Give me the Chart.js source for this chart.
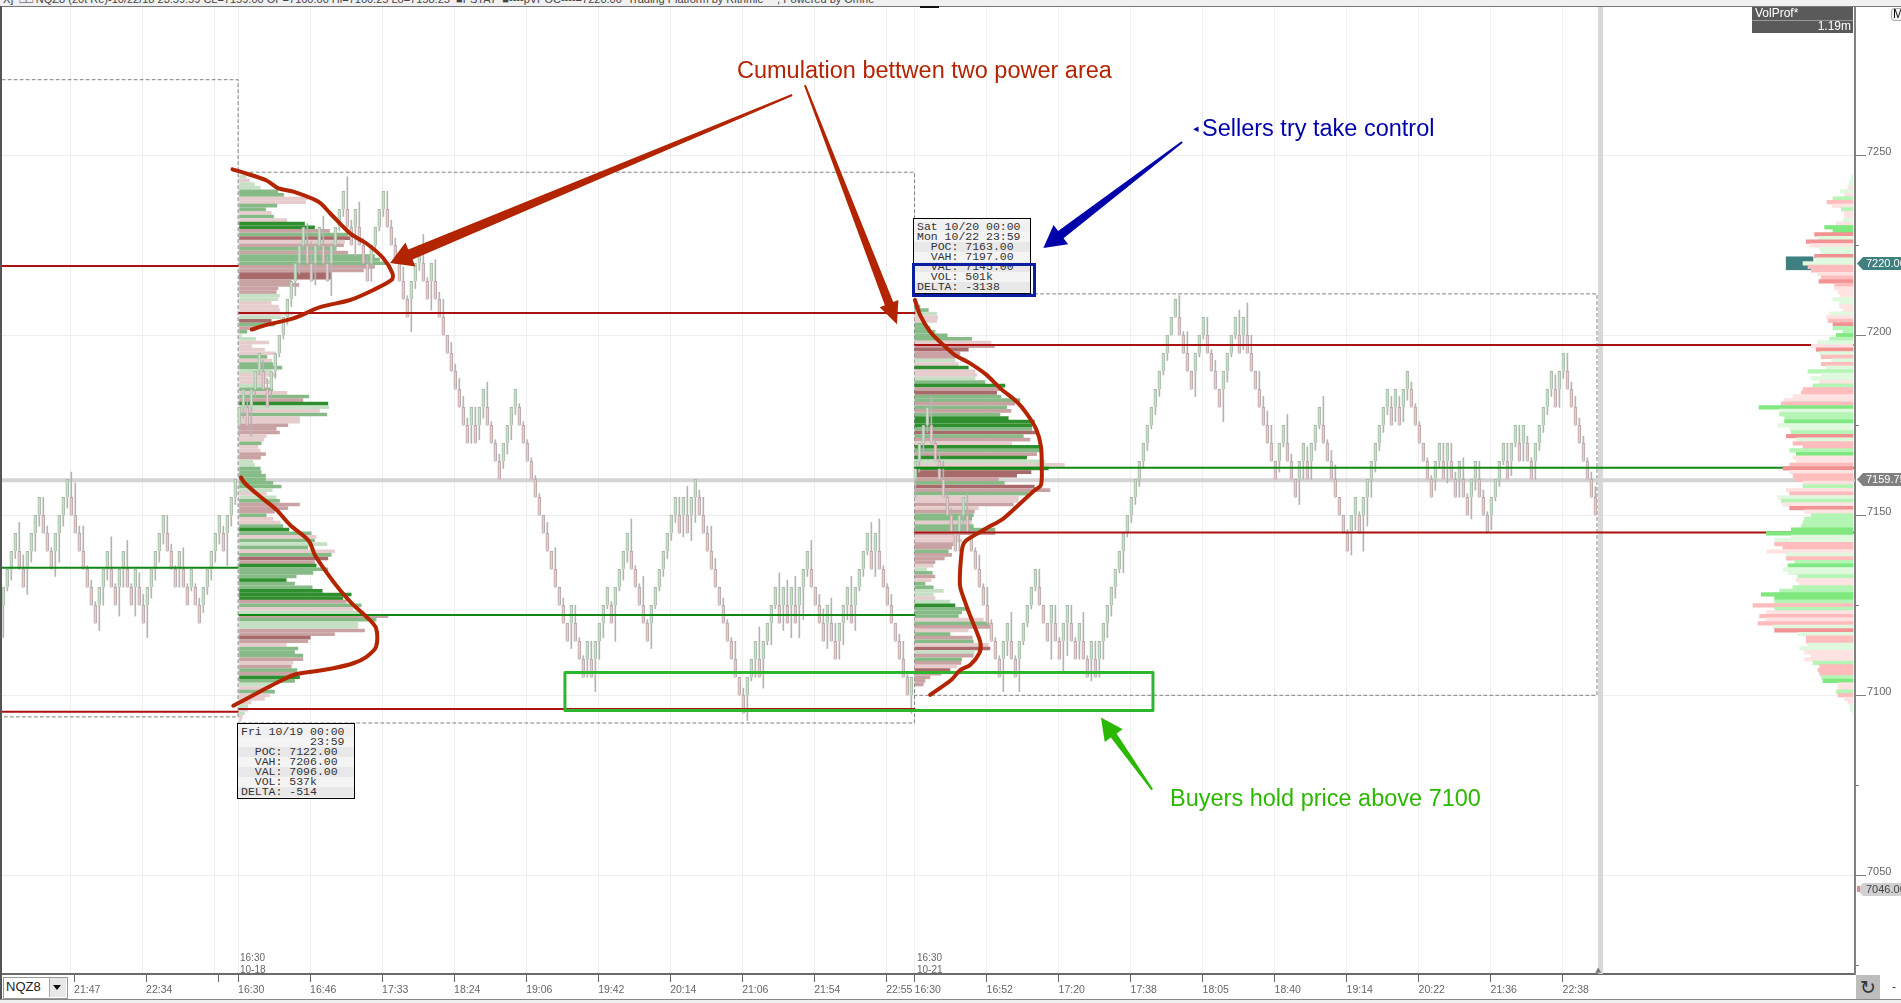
<!DOCTYPE html>
<html>
<head>
<meta charset="utf-8">
<title>NQZ8 volume profile</title>
<script src="https://cdn.jsdelivr.net/npm/chart.js@4"></script>
<style>
  html, body { margin: 0; padding: 0; background: #fff; overflow: hidden; }
  #wrap { position: relative; width: 1901px; height: 1003px; overflow: hidden; }
  #wrap div { position: absolute; white-space: pre; }
  canvas { position: absolute; left: 0; top: 0; }
  .note { font-family: "Liberation Sans", sans-serif; font-size: 23.5px; line-height: 26px; }
  .small { font-family: "Liberation Sans Narrow", "Liberation Sans", sans-serif; font-size: 11px; color: #666; line-height: 11px; }
  .info { font-family: "Liberation Mono", monospace; font-size: 11.5px; color: #333; border: 1px solid #000; background: #f4f4f4; width: 116px; padding-top: 3px; padding-bottom: 1px; }
  #wrap .info span { display: block; height: 10px; line-height: 10px; padding-left: 3px; }
  .info span:nth-child(odd) { background: #e8e8e8; }
  .info span:nth-child(1) { background: #f0f0f0; }
  .tag { font-family: "Liberation Sans", sans-serif; font-size: 11px; line-height: 13px; height: 13px; width: 35px; padding-left: 9px; color: #fff; clip-path: polygon(0 50%, 6px 0, 100% 0, 100% 100%, 6px 100%); }
</style>
</head>
<body>
<div id="wrap">
  <canvas id="profileChart" width="1901" height="1003"></canvas>

  <div style="left:0;top:0;width:1901px;height:6px;background:#f0f0f0;border-bottom:1px solid #777;overflow:hidden">
    <div class="small" style="left:3px;top:-6px;color:#444;font-size:11px">X]  □□ NQZ8 (20t Re)-10/22/18 23:59:59 CL=7159.00 OP=7160.00 Hi=7160.25 Lo=7158.25  ■PSTAT  ■----pVPOC----=7220.00  Trading Platform by Rithmic™ , Powered by Omne</div>
  </div>
  <div style="left:920px;top:6px;width:19px;height:2px;background:#111"></div>
  <div style="left:0;top:6px;width:2px;height:994px;background:#555"></div>

  <div style="left:1752px;top:7px;width:101px;height:26px;background:#5a5a5a"></div>
  <div style="left:1752px;top:20px;width:101px;height:1px;background:#999"></div>
  <div class="small" style="left:1755px;top:8px;color:#fff;font-size:12px">VolProf*</div>
  <div class="small" style="right:50px;top:21px;color:#fff;font-size:12px">1.19m</div>
  <div style="left:1891px;top:8px;width:14px;height:11px;border:1px solid #aaa;border-radius:3px;background:#f4f4f4;font:12px 'Liberation Sans';line-height:11px;padding-left:1px">M</div>

  <div class="tag" style="left:1857px;top:257px;background:#3f7f7f">7220.00</div>
  <div class="tag" style="left:1857px;top:473px;background:#808080">7159.75</div>
  <div class="tag" style="left:1857px;top:883px;background:#d0d0d0;color:#444">7046.00</div>
  <div style="left:1857px;top:886px;width:3px;height:6px;background:#e08888"></div>

  <div class="small" style="left:240px;top:952px;font-size:10px">16:30</div>
  <div class="small" style="left:240px;top:964px;font-size:10px">10-18</div>
  <div class="small" style="left:917px;top:952px;font-size:10px">16:30</div>
  <div class="small" style="left:917px;top:964px;font-size:10px">10-21</div>

  <div class="info" style="left:237px;top:723px"><span>Fri 10/19 00:00</span><span>          23:59</span><span>  POC: 7122.00</span><span>  VAH: 7206.00</span><span>  VAL: 7096.00</span><span>  VOL: 537k</span><span>DELTA: -514</span></div>
  <div class="info" style="left:913px;top:218px"><span>Sat 10/20 00:00</span><span>Mon 10/22 23:59</span><span>  POC: 7163.00</span><span>  VAH: 7197.00</span><span>  VAL: 7145.00</span><span>  VOL: 501k</span><span>DELTA: -3138</span></div>
  <div style="left:912px;top:263px;width:118px;height:28px;border:3px solid #0a1ea0"></div>

  <div class="note" style="left:737px;top:57px;color:#b32400">Cumulation bettwen two power area</div>
  <div class="note" style="left:1193px;top:118px;color:#0000aa;font-size:11px;line-height:20px">◂</div>
  <div class="note" style="left:1202px;top:115px;color:#0000aa">Sellers try take control</div>
  <div class="note" style="left:1170px;top:785px;color:#2bb800">Buyers hold price above 7100</div>

  <div style="left:3px;top:977px;width:63px;height:20px;border:1px solid #999;background:#fff"></div>
  <div class="small" style="left:6px;top:979px;font-size:13px;line-height:15px;color:#222">NQZ8</div>
  <div style="left:49px;top:978px;width:16px;height:19px;background:#e8e8e8;border-left:1px solid #aaa"></div>
  <div style="left:53px;top:985px;width:0;height:0;border-left:4px solid transparent;border-right:4px solid transparent;border-top:5px solid #111"></div>
  <div style="left:1856px;top:975px;width:24px;height:24px;background:#bdbdbd;color:#333;font:19px 'DejaVu Sans';line-height:24px;text-align:center">↻</div>
  <div style="left:1892px;top:980px;font:12px 'Liberation Sans';color:#333">-</div>
  <div style="left:0;top:999px;width:1901px;height:1px;background:#888"></div>
  <div style="left:0;top:1000px;width:1901px;height:3px;background:#f0f0f0"></div>
</div>

<script>
// renko bricks (20 tick = 5 points), one per bar
const brickDirs = (
  "GGGGRRGGGG" + "RRRGGGGRRR" + "RRRRGGGRRG" + "GRRGRRGGGG" + "GRRRGRRGRR" +
  "GGGGGRGGGG" + "GRGGGRRGGG" + "GGGGGGRRGG" + "RRGGGGRRGR" + "RRGGGGRRRR" +
  "RRGGGRRGRR" + "RRRRRRRGRG" + "GRRRRGGGGR" + "RRRRRRRRRR" + "RRGRRRGRGG" +
  "GGRGGGGRRR" + "RRGGGGGGGR" + "GRGGRRRRRR" + "RRRRRRGGGR" + "GGGGRGRGRG" +
  "GGRRRRGRRG" + "GGRGGGGRGR" + "RRRRRRRGGG" + "GGRRRRRRRG" + "GRRRRRRRRR" +
  "GGRRGGGGGR" + "RRGRRGGRRG" + "RRGRGGGGGG" + "GGGGGGGGGG" + "GGGGRRRRGG" +
  "GRRRRGGGGR" + "GRRRRRRRRG" + "GRRRGGRGGG" + "RRRRRRRGGR" + "GGGGGGGRGR" +
  "GGRRRRRRGG" + "RGRRGRRGGR" + "RRGGGGRGGR" + "GRRGGGGGRG" + "GRRRRRRRR"
).split("");
const brickLows = [
  7125, 7130, 7135, 7140, 7135, 7130, 7135, 7140, 7145, 7150,
  7145, 7140, 7135, 7140, 7145, 7150, 7155, 7150, 7145, 7140,
  7135, 7130, 7125, 7120, 7125, 7130, 7135, 7130, 7125, 7130,
  7135, 7130, 7125, 7130, 7125, 7120, 7125, 7130, 7135, 7140,
  7145, 7140, 7135, 7130, 7135, 7130, 7125, 7130, 7125, 7120,
  7125, 7130, 7135, 7140, 7145, 7140, 7145, 7150, 7155, 7175,
  7180, 7175, 7180, 7185, 7190, 7185, 7180, 7185, 7190, 7195,
  7200, 7205, 7210, 7215, 7220, 7225, 7220, 7215, 7220, 7225,
  7220, 7215, 7220, 7225, 7230, 7235, 7230, 7225, 7230, 7225,
  7220, 7215, 7220, 7225, 7230, 7235, 7230, 7225, 7220, 7215,
  7210, 7205, 7210, 7215, 7220, 7215, 7210, 7215, 7210, 7205,
  7200, 7195, 7190, 7185, 7180, 7175, 7170, 7175, 7170, 7175,
  7180, 7175, 7170, 7165, 7160, 7165, 7170, 7175, 7180, 7175,
  7170, 7165, 7160, 7155, 7150, 7145, 7140, 7135, 7130, 7125,
  7120, 7115, 7120, 7115, 7110, 7105, 7110, 7105, 7110, 7115,
  7120, 7125, 7120, 7125, 7130, 7135, 7140, 7135, 7130, 7125,
  7120, 7115, 7120, 7125, 7130, 7135, 7140, 7145, 7150, 7145,
  7150, 7145, 7150, 7155, 7150, 7145, 7140, 7135, 7130, 7125,
  7120, 7115, 7110, 7105, 7100, 7095, 7100, 7105, 7110, 7105,
  7110, 7115, 7120, 7125, 7120, 7125, 7120, 7125, 7120, 7125,
  7130, 7135, 7130, 7125, 7120, 7115, 7120, 7115, 7110, 7115,
  7120, 7125, 7120, 7125, 7130, 7135, 7140, 7135, 7140, 7135,
  7130, 7125, 7120, 7115, 7110, 7105, 7100, 7100, 7160, 7165,
  7170, 7175, 7170, 7165, 7160, 7155, 7150, 7145, 7140, 7145,
  7150, 7145, 7140, 7135, 7130, 7125, 7120, 7115, 7110, 7105,
  7110, 7115, 7110, 7105, 7110, 7115, 7120, 7125, 7130, 7125,
  7120, 7115, 7120, 7115, 7110, 7115, 7120, 7115, 7110, 7115,
  7110, 7105, 7110, 7105, 7110, 7115, 7120, 7125, 7130, 7135,
  7140, 7145, 7150, 7155, 7160, 7165, 7170, 7175, 7180, 7185,
  7190, 7195, 7200, 7205, 7200, 7195, 7190, 7185, 7190, 7195,
  7200, 7195, 7190, 7185, 7180, 7185, 7190, 7195, 7200, 7195,
  7200, 7195, 7190, 7185, 7180, 7175, 7170, 7165, 7160, 7165,
  7170, 7165, 7160, 7155, 7160, 7165, 7160, 7165, 7170, 7175,
  7170, 7165, 7160, 7155, 7150, 7145, 7140, 7145, 7150, 7145,
  7150, 7155, 7160, 7165, 7170, 7175, 7180, 7175, 7180, 7175,
  7180, 7185, 7180, 7175, 7170, 7165, 7160, 7155, 7160, 7165,
  7160, 7165, 7160, 7155, 7160, 7155, 7150, 7155, 7160, 7155,
  7150, 7145, 7150, 7155, 7160, 7165, 7160, 7165, 7170, 7165,
  7170, 7165, 7160, 7165, 7170, 7175, 7180, 7185, 7180, 7185,
  7190, 7185, 7180, 7175, 7170, 7165, 7160, 7155, 7150
];
// wick length in points, below a green brick, above a red one
const brickWicks = [
  9, 1, 3, 2, 8, 4, 7, 3, 5, 3,
  5, 2, 1, 7, 8, 3, 3, 7, 9, 2,
  7, 1, 2, 1, 7, 5, 3, 9, 1, 8,
  5, 8, 1, 8, 4, 3, 9, 3, 3, 3,
  3, 5, 2, 1, 5, 6, 1, 1, 1, 2,
  2, 2, 3, 3, 3, 2, 9, 3, 2, 3,
  3, 2, 8, 2, 1, 3, 3, 2, 2, 1,
  1, 2, 2, 4, 3, 1, 6, 6, 6, 1,
  8, 2, 9, 2, 1, 2, 9, 2, 8, 7,
  2, 2, 5, 2, 1, 2, 5, 2, 2, 1,
  4, 1, 9, 2, 2, 8, 1, 8, 6, 2,
  5, 0, 3, 2, 3, 3, 2, 5, 5, 4,
  3, 7, 1, 1, 2, 2, 3, 4, 2, 1,
  1, 1, 1, 1, 1, 0, 3, 0, 6, 0,
  2, 0, 7, 5, 1, 1, 5, 5, 9, 5,
  4, 1, 1, 10, 1, 3, 3, 9, 1, 1,
  8, 1, 7, 1, 1, 2, 2, 2, 2, 5,
  6, 8, 7, 7, 2, 5, 2, 7, 3, 0,
  2, 1, 1, 5, 0, 2, 7, 1, 5, 9,
  8, 1, 6, 1, 9, 7, 7, 9, 8, 9,
  9, 2, 8, 0, 3, 4, 7, 7, 5, 5,
  6, 4, 8, 7, 1, 2, 1, 8, 7, 9,
  1, 1, 3, 0, 2, 5, 1, 5, 5, 3,
  3, 2, 8, 1, 2, 5, 1, 2, 2, 5,
  5, 6, 1, 1, 4, 1, 5, 1, 1, 1,
  9, 4, 8, 1, 9, 1, 1, 1, 1, 5,
  0, 0, 10, 5, 1, 9, 9, 5, 1, 5,
  8, 1, 6, 5, 5, 5, 4, 3, 3, 1,
  6, 1, 2, 2, 2, 2, 2, 1, 2, 2,
  1, 2, 0, 0, 6, 1, 6, 0, 7, 1,
  1, 5, 1, 3, 0, 9, 3, 1, 1, 7,
  4, 9, 5, 0, 5, 3, 4, 5, 0, 3,
  1, 8, 2, 0, 7, 5, 4, 5, 2, 1,
  8, 1, 3, 4, 0, 0, 1, 6, 4, 1,
  10, 8, 5, 3, 2, 2, 2, 3, 4, 3,
  4, 3, 2, 1, 1, 0, 1, 1, 3, 2,
  5, 6, 5, 2, 5, 6, 1, 6, 3, 5,
  2, 1, 4, 1, 2, 1, 5, 4, 1, 5,
  5, 2, 1, 5, 2, 2, 2, 2, 4, 5,
  2, 5, 2, 3, 2, 2, 1, 2, 3
];

// volume profile 10/18-10/19
const sessionOneLevels = [
  7244, 7243, 7242, 7241, 7240, 7239, 7238, 7237, 7236, 7235, 7234, 7233, 7232, 7231, 7230, 7229,
  7228, 7227, 7226, 7225, 7224, 7223, 7222, 7221, 7220, 7219, 7218, 7217, 7216, 7215, 7214, 7213,
  7212, 7211, 7210, 7209, 7208, 7207, 7206, 7205, 7204, 7203, 7202, 7201, 7200, 7199, 7198, 7197,
  7196, 7195, 7194, 7193, 7192, 7191, 7190, 7189, 7188, 7187, 7186, 7185, 7184, 7183, 7182, 7181,
  7180, 7179, 7178, 7177, 7176, 7175, 7174, 7173, 7172, 7171, 7170, 7169, 7168, 7167, 7166, 7165,
  7164, 7163, 7162, 7161, 7160, 7159, 7158, 7157, 7156, 7155, 7154, 7153, 7152, 7151, 7150, 7149,
  7148, 7147, 7146, 7145, 7144, 7143, 7142, 7141, 7140, 7139, 7138, 7137, 7136, 7135, 7134, 7133,
  7132, 7131, 7130, 7129, 7128, 7127, 7126, 7125, 7124, 7123, 7122, 7121, 7120, 7119, 7118, 7117,
  7116, 7115, 7114, 7113, 7112, 7111, 7110, 7109, 7108, 7107, 7106, 7105, 7104, 7103, 7102, 7101,
  7100, 7099, 7098, 7097, 7096, 7095, 7094, 7093
];
const sessionOneVolume = [
  20, 30, 45, 62, 115, 132, 205, 198, 112, 78, 95, 102, 142, 195, 225, 270,
  325, 335, 315, 312, 290, 325, 405, 420, 440, 405, 372, 275, 275, 155, 178, 115,
  110, 120, 115, 95, 117, 120, 160, 125, 95, 105, 45, 22, 5, 48, 88, 37,
  75, 108, 82, 97, 100, 127, 95, 110, 80, 90, 70, 100, 142, 208, 190, 265,
  268, 240, 262, 180, 180, 145, 110, 120, 80, 73, 65, 55, 62, 78, 63, 40,
  45, 62, 65, 78, 78, 100, 125, 98, 80, 110, 120, 180, 145, 105, 80, 100,
  122, 130, 148, 215, 230, 225, 262, 205, 285, 275, 265, 225, 230, 265, 220, 170,
  140, 165, 218, 248, 335, 310, 320, 365, 340, 375, 445, 410, 355, 355, 375, 285,
  212, 205, 140, 175, 165, 190, 190, 160, 155, 172, 182, 180, 165, 105, 75, 105,
  90, 75, 35, 25, 25, 15, 8, 5
];
const sessionOneDelta = [
  1, -1, 1, 1, 2, 2, -1, -1, 2, 2, -1, 2, -1, 3, 3, -2,
  2, -3, -1, -2, 2, -2, 2, 2, 2, -2, -2, -3, -3, -2, -2, -2,
  -2, 1, 1, -1, -1, -1, -1, 1, -3, 2, -2, 2, 1, 1, -1, -1,
  -1, -1, 2, -1, 2, 2, 1, -1, -1, -1, 1, 2, -1, 2, -2, 3,
  1, -1, 2, -1, -1, -2, -2, -2, -1, -1, 2, -1, -1, -2, -2, 1,
  1, 2, 2, 2, 2, 2, 2, 1, -1, 1, 2, -2, -2, -2, 2, -1,
  -1, 2, 3, 2, -1, 2, 1, 2, -1, 2, -3, -2, 3, 2, 2, 2,
  3, 2, 2, 3, 3, 3, -2, 2, -1, 1, -2, 2, 1, 1, -2, -2,
  -3, -2, -1, 2, 2, 2, -2, -1, -2, 2, -2, 3, 2, 1, -1, 2,
  -1, -1, -1, 1, -1, 1, -1, -1
];

// volume profile 10/20-10/22
const sessionTwoLevels = [
  7208, 7207, 7206, 7205, 7204, 7203, 7202, 7201, 7200, 7199, 7198, 7197, 7196, 7195, 7194, 7193,
  7192, 7191, 7190, 7189, 7188, 7187, 7186, 7185, 7184, 7183, 7182, 7181, 7180, 7179, 7178, 7177,
  7176, 7175, 7174, 7173, 7172, 7171, 7170, 7169, 7168, 7167, 7166, 7165, 7164, 7163, 7162, 7161,
  7160, 7159, 7158, 7157, 7156, 7155, 7154, 7153, 7152, 7151, 7150, 7149, 7148, 7147, 7146, 7145,
  7144, 7143, 7142, 7141, 7140, 7139, 7138, 7137, 7136, 7135, 7134, 7133, 7132, 7131, 7130, 7129,
  7128, 7127, 7126, 7125, 7124, 7123, 7122, 7121, 7120, 7119, 7118, 7117, 7116, 7115, 7114, 7113,
  7112, 7111, 7110, 7109, 7108, 7107, 7106, 7105, 7104, 7103
];
const sessionTwoVolume = [
  15, 40, 65, 68, 65, 30, 45, 60, 97, 170, 228, 238, 160, 135, 120, 120,
  130, 160, 180, 185, 180, 210, 270, 260, 245, 258, 315, 300, 275, 288, 255, 280,
  358, 350, 350, 365, 325, 345, 290, 375, 380, 365, 335, 390, 448, 400, 348, 305,
  250, 268, 358, 405, 340, 310, 310, 295, 190, 178, 175, 170, 170, 175, 240, 240,
  130, 140, 115, 110, 100, 110, 88, 60, 55, 35, 52, 60, 48, 30, 55, 85,
  55, 60, 105, 120, 155, 140, 130, 205, 222, 228, 160, 105, 172, 175, 220, 225,
  178, 175, 140, 138, 125, 105, 78, 45, 30, 25
];
const sessionTwoDelta = [
  2, 2, 1, -1, -1, 2, 2, 2, 2, 2, -1, -2, -3, -2, -2, 1,
  -1, 3, -1, -1, 1, 2, 3, -2, -3, 2, 2, -2, 2, -2, 2, 3,
  3, 3, 2, -3, 2, -2, -1, 3, 2, -2, 3, 1, -1, 3, -3, -3,
  -2, 2, -3, -2, 2, -1, -1, -2, -1, -2, 2, 2, -1, 2, 2, -2,
  -1, -1, -2, -2, 2, -2, -2, -2, -1, 1, 2, -2, -1, 2, 2, 1,
  1, -1, 1, 3, 2, 2, 2, -1, 2, -2, -1, 2, -2, 2, -1, -3,
  1, -2, 2, -2, -1, -3, -2, -2, -2, -2
];

// composite profile on the right edge
const rightLevels = [
  7244, 7243, 7242, 7241, 7240, 7239, 7238, 7237, 7236, 7235, 7234, 7233, 7232, 7231, 7230, 7229,
  7228, 7227, 7226, 7225, 7224, 7223, 7222, 7221, 7220, 7219, 7218, 7217, 7216, 7215, 7214, 7213,
  7212, 7211, 7210, 7209, 7208, 7207, 7206, 7205, 7204, 7203, 7202, 7201, 7200, 7199, 7198, 7197,
  7196, 7195, 7194, 7193, 7192, 7191, 7190, 7189, 7188, 7187, 7186, 7185, 7184, 7183, 7182, 7181,
  7180, 7179, 7178, 7177, 7176, 7175, 7174, 7173, 7172, 7171, 7170, 7169, 7168, 7167, 7166, 7165,
  7164, 7163, 7162, 7161, 7160, 7159, 7158, 7157, 7156, 7155, 7154, 7153, 7152, 7151, 7150, 7149,
  7148, 7147, 7146, 7145, 7144, 7143, 7142, 7141, 7140, 7139, 7138, 7137, 7136, 7135, 7134, 7133,
  7132, 7131, 7130, 7129, 7128, 7127, 7126, 7125, 7124, 7123, 7122, 7121, 7120, 7119, 7118, 7117,
  7116, 7115, 7114, 7113, 7112, 7111, 7110, 7109, 7108, 7107, 7106, 7105, 7104, 7103, 7102, 7101,
  7100, 7099, 7098, 7097, 7096, 7095
];
const rightVolume = [
  5, 10, 12, 15, 38, 25, 60, 78, 62, 35, 28, 25, 30, 50, 85, 60,
  115, 105, 140, 128, 100, 95, 115, 110, 150, 135, 125, 105, 95, 102, 55, 55,
  45, 38, 60, 40, 40, 30, 70, 80, 75, 60, 60, 30, 50, 70, 105, 125,
  110, 100, 95, 65, 95, 80, 135, 95, 125, 100, 120, 150, 155, 180, 205, 215,
  282, 220, 220, 205, 205, 225, 190, 185, 200, 170, 180, 150, 190, 170, 180, 170,
  190, 210, 190, 180, 175, 150, 150, 200, 190, 225, 215, 210, 190, 145, 125, 145,
  150, 155, 185, 260, 185, 235, 235, 210, 258, 200, 200, 175, 195, 210, 195, 165,
  170, 160, 180, 220, 275, 235, 235, 300, 235, 260, 280, 260, 285, 240, 235, 165,
  140, 140, 135, 160, 145, 125, 145, 120, 100, 105, 100, 95, 90, 45, 45, 50,
  45, 25, 15, 10, 8, 3
];
const rightDelta = [
  1, 1, 1, -1, 1, -1, 2, -2, -1, 2, -1, -1, 1, -1, 3, 3,
  -3, 1, -3, -1, 1, 1, -3, 1, 1, -2, -2, -1, -2, -3, -2, -1,
  -1, -1, 1, 1, -1, -1, 1, -1, -2, -3, 2, 2, 3, 2, 1, -1,
  -3, 1, -2, 1, -2, 1, 2, 1, 1, -1, 2, -2, -2, -1, -1, -2,
  3, 1, 2, 2, 3, 1, 1, 2, -3, 1, -2, -2, 2, 3, -1, -1,
  -2, -3, -1, -2, -2, -1, 2, -1, -2, 1, 2, -1, -3, -1, 2, 2,
  2, 2, 3, 3, 1, 1, -2, -2, -1, 1, -2, 2, 3, 1, 1, 2,
  -1, -1, 2, 2, 3, 3, 2, -2, 2, -1, -2, -1, -2, 1, -3, 1,
  -2, -2, 1, 1, -1, -1, -1, 2, -2, -2, -2, 2, 3, -1, -1, 2,
  -2, -1, -1, 1, 1, 1
];

// POC / VAH / VAL levels of each session
const levelPrices = [7219.25, 7135.4, 7095.4, 7206.2, 7122.3, 7096.2, 7197.3, 7163.2, 7145.2];
const levelFrom = [-0.3, -0.3, -0.3, 59, 59, 59, 227.9, 227.9, 227.9];
const levelTo = [58.6, 58.6, 58.6, 227.8, 227.8, 227.8, 462.4, 462.4, 462.4];
const levelKinds = ["red", "green", "red", "red", "green", "red", "red", "green", "red"];
const lastPrice = 7159.75;
const pvpocPrice = 7220;

// dashed session boxes
const boxFrom = [-0.3, 58.7, 227.8];
const boxTo = [58.7, 227.8, 398.4];
const boxTop = [7271, 7245.3, 7211.5];
const boxBottom = [7094, 7092.3, 7100];

// time axis
const tickBars = [17.7, 35.7, 53.7, 58.7, 76.7, 94.7, 112.7, 130.7, 148.7, 166.7, 184.7, 202.7, 220.7, 227.8, 245.8, 263.8, 281.8, 299.8, 317.8, 335.8, 353.8, 371.8, 389.8];
const tickLabels = ["21:47", "22:34", "", "16:30", "16:46", "17:33", "18:24", "19:06", "19:42", "20:14", "21:06", "21:54", "22:55", "16:30", "16:52", "17:20", "17:38", "18:05", "18:40", "19:14", "20:22", "21:36", "22:38"];
const gridBars = [16.9, 34.9, 52.9, 58.7, 76.7, 94.7, 112.7, 130.7, 148.7, 166.7, 184.7, 202.7, 220.7, 227.8, 245.8, 263.8, 281.8, 299.8, 317.8, 335.8, 353.8, 371.8, 389.8];
// price axis
const priceTicks = [7250, 7200, 7150, 7100, 7050];
const minorTicks = [7225, 7175, 7125, 7075, 7025];

// hand drawn curves, [bar, price]
const curveOne = [[57.3, 7246.1], [60, 7245.2], [65.8, 7243], [68.8, 7240.8], [72.5, 7239.9], [78.8, 7237.1], [81.7, 7233.9], [86.7, 7228.3], [90.8, 7225.5], [95, 7221.4], [97.3, 7217.2], [97.1, 7215.4], [92.5, 7212.6], [86.7, 7209.8], [79.2, 7207.8], [72.5, 7204.7], [65.8, 7202.9], [62.1, 7201.6]];
const curveTwo = [[59.4, 7160.5], [60.4, 7158.9], [64.2, 7155.2], [68.3, 7151.5], [71.7, 7147.3], [76.3, 7143], [77.9, 7139], [81.3, 7133.4], [84.2, 7129.2], [87.5, 7125.1], [90.8, 7121.8], [93.2, 7118.6], [93.2, 7113.5], [90.8, 7110.7], [87.5, 7108.9], [82.5, 7107.5], [77.5, 7106.6], [73.3, 7105.9], [70, 7104.4], [65.8, 7102], [57.5, 7097.1]];
const curveThree = [[227.9, 7209.8], [229.2, 7205.6], [231.7, 7201], [235, 7197.3], [237.9, 7194.5], [241.7, 7192.2], [245.8, 7189], [249.2, 7185.3], [253.3, 7181.6], [255.8, 7178.3], [258.3, 7173.7], [259.4, 7169.1], [259.6, 7163.5], [259.4, 7158.4], [257.9, 7157], [254.2, 7153.3], [250, 7149.1], [245.8, 7146.4], [240.8, 7143.1], [239.8, 7141.3], [239.2, 7134.8], [239.2, 7130.2], [240.4, 7126], [241.8, 7121.8], [243.3, 7117.7], [244.3, 7114.4], [244, 7111.7], [241.7, 7108.4], [239.2, 7107], [237.1, 7104.4], [231.7, 7100.1]];
const buyZone = [[140.4, 7106.3], [287.4, 7106.3], [287.4, 7095.8], [140.4, 7095.8], [140.4, 7106.3]];

// arrows, tail and tip as [bar, price]
const arrowTails = [[197.2, 7266.75], [200.4, 7269.5], [294.7, 7253.7], [287.2, 7073.8]];
const arrowTips = [[96.7, 7220.1], [223.4, 7203.1], [260, 7224.25], [274.4, 7093.8]];
const arrowColors = ["#b32400", "#b32400", "#0000aa", "#2ab800"];
const arrowNecks = [11, 9, 9, 7];
const arrowHeads = [26, 20, 24, 22];

const barMin = -0.325;
const barMax = 462.9;
const volPerBar = 12;
const sessionOneStart = 59.05;
const sessionTwoStart = 227.9;
const rightEdge = 462.4;

const sessionColors = { "3": "#2f8f2f", "2": "#86ba86", "1": "#c6e0c6", "-1": "#e6cccc", "-2": "#c9a3a3", "-3": "#a86a6a" };
const rightColors = { "3": "#7fe87f", "2": "#b4f4b4", "1": "#def9de", "-1": "#ffe2e2", "-2": "#ffbcbc", "-3": "#f29292" };

function profileSet(levels, volume, delta, colors, start, growLeft, thickness, order) {
  return {
    type: "bar",
    indexAxis: "y",
    grouped: false,
    order: order,
    barThickness: thickness,
    backgroundColor: delta.map(d => colors[d]),
    data: levels.map((level, i) => ({
      y: level,
      x: growLeft ? [start - volume[i] / volPerBar, start] : [start, start + volume[i] / volPerBar]
    }))
  };
}

function pathSet(points, color, width, order, tension, dash) {
  return {
    type: "line",
    order: order,
    borderColor: color,
    borderWidth: width,
    borderDash: dash || [],
    pointRadius: 0,
    tension: tension || 0,
    borderCapStyle: "round",
    borderJoinStyle: "round",
    data: points.map(p => ({ x: p[0], y: p[1] }))
  };
}

// keep the plot edges fixed, labels must not push them
function noPadding(scale) {
  scale.paddingLeft = 0;
  scale.paddingRight = 0;
  scale.paddingTop = 0;
  scale.paddingBottom = 0;
}

const datasets = [];

// ink on top
datasets.push(pathSet(curveOne, "#b32400", 4, 1, 0.3));
datasets.push(pathSet(curveTwo, "#b32400", 4, 1, 0.3));
datasets.push(pathSet(curveThree, "#b32400", 4, 1, 0.3));
datasets.push(pathSet(buyZone, "#2fb62f", 3, 1));

// right profile covers the levels
datasets.push(profileSet(rightLevels, rightVolume, rightDelta, rightColors, rightEdge, true, 3.6, 2));

levelPrices.forEach((price, i) => {
  const color = levelKinds[i] === "red" ? "#aa1111" : "#118811";
  datasets.push(pathSet([[levelFrom[i], price], [levelTo[i], price]], color, 2, 3));
});

// bricks
datasets.push({
  type: "bar", grouped: false, order: 4, barThickness: 3, borderWidth: 1,
  backgroundColor: brickDirs.map(d => d === "G" ? "#c5e2c5" : "#e6cccc"),
  borderColor: brickDirs.map(d => d === "G" ? "#a8bba8" : "#bba8a8"),
  data: brickLows.map((low, i) => ({ x: i, y: [low, low + 5] }))
});
datasets.push({
  type: "bar", grouped: false, order: 5, barThickness: 1,
  backgroundColor: "#b4b4b4",
  data: brickLows.map((low, i) => ({
    x: i,
    y: brickDirs[i] === "G" ? [low - brickWicks[i], low + 5] : [low, low + 5 + brickWicks[i]]
  }))
});

datasets.push(profileSet(sessionOneLevels, sessionOneVolume, sessionOneDelta, sessionColors, sessionOneStart, false, 3, 6));
datasets.push(profileSet(sessionTwoLevels, sessionTwoVolume, sessionTwoDelta, sessionColors, sessionTwoStart, false, 3, 6));

// pvpoc marker behind the right profile
datasets.push({
  type: "bar", indexAxis: "y", grouped: false, order: 7, barThickness: 13,
  backgroundColor: "#3f7f7f",
  data: [{ y: pvpocPrice, x: [445.7, 452.4] }]
});

datasets.push(pathSet([[barMin, lastPrice], [rightEdge, lastPrice]], "#d4d4d4", 4, 8));
boxFrom.forEach((from, i) => {
  const box = [[from, boxTop[i]], [boxTo[i], boxTop[i]], [boxTo[i], boxBottom[i]], [from, boxBottom[i]]];
  datasets.push(pathSet(box, "#808080", 1, 9, 0, [3, 3]));
});
datasets.push(pathSet([[399.3, 7291], [399.3, 7023]], "#d8d8d8", 5, 10));
// marker at the foot of the scroll bar
datasets.push({
  type: "line", order: 1, showLine: false, pointStyle: "triangle", pointRadius: 3.5,
  pointBackgroundColor: "#777", pointBorderWidth: 0, clip: false,
  data: [{ x: 398.7, y: 7023.4 }]
});

const inkPlugin = {
  id: "ink",
  afterDatasetsDraw(chart) {
    const ctx = chart.ctx;
    const x = chart.scales.x;
    const y = chart.scales.y;
    // short ticks between the labelled ones
    ctx.save();
    ctx.strokeStyle = "#808080";
    ctx.lineWidth = 1;
    minorTicks.forEach(p => {
      const py = Math.round(y.getPixelForValue(p)) + 0.5;
      ctx.beginPath();
      ctx.moveTo(x.right, py);
      ctx.lineTo(x.right + 4, py);
      ctx.stroke();
    });
    // tapered arrows
    arrowTails.forEach((tail, i) => {
      const tx = x.getPixelForValue(tail[0]);
      const ty = y.getPixelForValue(tail[1]);
      const hx = x.getPixelForValue(arrowTips[i][0]);
      const hy = y.getPixelForValue(arrowTips[i][1]);
      const len = Math.hypot(hx - tx, hy - ty);
      const ux = (hx - tx) / len;
      const uy = (hy - ty) / len;
      const nx = -uy;
      const ny = ux;
      const neck = arrowNecks[i] / 2;
      const head = arrowHeads[i] / 2;
      const bx = hx - ux * 22;
      const by = hy - uy * 22;
      ctx.fillStyle = arrowColors[i];
      ctx.beginPath();
      ctx.moveTo(tx + nx, ty + ny);
      ctx.lineTo(bx + nx * neck, by + ny * neck);
      ctx.lineTo(bx + nx * head, by + ny * head);
      ctx.lineTo(hx, hy);
      ctx.lineTo(bx - nx * head, by - ny * head);
      ctx.lineTo(bx - nx * neck, by - ny * neck);
      ctx.lineTo(tx - nx, ty - ny);
      ctx.closePath();
      ctx.fill();
    });
    ctx.restore();
  }
};

const xFont = { family: "'Liberation Sans Narrow', 'Liberation Sans', sans-serif", size: 10.5 };
const yFont = { family: "'Liberation Sans Narrow', 'Liberation Sans', sans-serif", size: 11 };

new Chart(document.getElementById("profileChart").getContext("2d"), {
  type: "bar",
  data: { datasets: datasets },
  plugins: [inkPlugin],
  options: {
    responsive: false,
    animation: false,
    events: [],
    layout: { autoPadding: false, padding: { top: 6, left: 2, right: 0, bottom: 0 } },
    plugins: { legend: { display: false }, tooltip: { enabled: false } },
    scales: {
      x: {
        type: "linear",
        position: "bottom",
        weight: 0,
        offset: false,
        min: barMin,
        max: barMax,
        afterBuildTicks: scale => { scale.ticks = gridBars.map(v => ({ value: v })); },
        afterFit: scale => { scale.height = 0; noPadding(scale); },
        ticks: { display: false },
        grid: { color: "#eeeeee", offset: false, drawTicks: false },
        border: { display: false }
      },
      xt: {
        type: "linear",
        axis: "x",
        position: "bottom",
        weight: 1,
        offset: false,
        min: barMin,
        max: barMax,
        afterBuildTicks: scale => { scale.ticks = tickBars.map(v => ({ value: v })); },
        afterFit: scale => { scale.height = 29; noPadding(scale); },
        ticks: {
          autoSkip: false,
          maxRotation: 0,
          align: "start",
          padding: 2,
          color: "#666",
          font: xFont,
          callback: (value, index) => tickLabels[index]
        },
        grid: { drawOnChartArea: false, tickLength: 8, tickColor: "#666", offset: false },
        border: { color: "#6b6b6b", width: 2 }
      },
      y: {
        type: "linear",
        position: "right",
        offset: false,
        beginAtZero: false,
        min: 7022.58,
        max: 7291.47,
        afterBuildTicks: scale => { scale.ticks = priceTicks.map(v => ({ value: v })); },
        afterFit: scale => { scale.width = 46; noPadding(scale); },
        ticks: {
          autoSkip: false,
          padding: 1,
          labelOffset: -3,
          color: "#666",
          font: yFont,
          callback: value => String(value)
        },
        grid: { color: "#eeeeee", tickColor: "#808080", tickLength: 11, offset: false },
        border: { color: "#808080", width: 2 }
      }
    }
  }
});
</script>
</body>
</html>
